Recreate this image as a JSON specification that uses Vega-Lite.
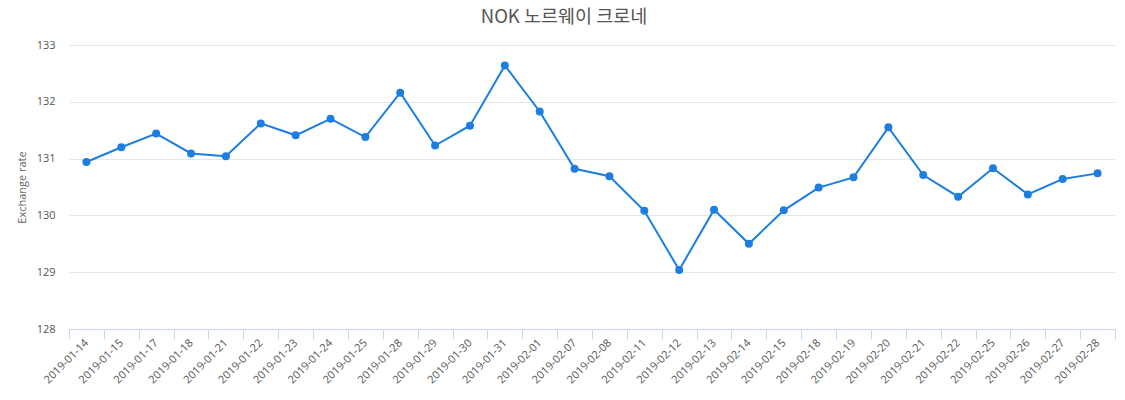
{
  "$schema": "https://vega.github.io/schema/vega-lite/v6.json",
  "autosize": {"type": "none"},
  "width": 1046,
  "height": 284,
  "padding": {"left": 69, "top": 45, "right": 10, "bottom": 71},
  "background": "white",
  "title": {
    "text": "NOK 노르웨이 크로네",
    "font": "Noto Sans CJK KR",
    "fontSize": 18.5,
    "fontWeight": "normal",
    "color": "#555555",
    "anchor": "middle",
    "baseline": "alphabetic",
    "offset": -2,
    "dx": -28
  },
  "data": {
    "values": [
      {"date": "2019-01-14", "rate": 130.94},
      {"date": "2019-01-15", "rate": 131.20},
      {"date": "2019-01-17", "rate": 131.44},
      {"date": "2019-01-18", "rate": 131.09},
      {"date": "2019-01-21", "rate": 131.04},
      {"date": "2019-01-22", "rate": 131.62},
      {"date": "2019-01-23", "rate": 131.41},
      {"date": "2019-01-24", "rate": 131.70},
      {"date": "2019-01-25", "rate": 131.38},
      {"date": "2019-01-28", "rate": 132.16},
      {"date": "2019-01-29", "rate": 131.23},
      {"date": "2019-01-30", "rate": 131.58},
      {"date": "2019-01-31", "rate": 132.64},
      {"date": "2019-02-01", "rate": 131.83},
      {"date": "2019-02-07", "rate": 130.82},
      {"date": "2019-02-08", "rate": 130.69},
      {"date": "2019-02-11", "rate": 130.08},
      {"date": "2019-02-12", "rate": 129.04},
      {"date": "2019-02-13", "rate": 130.10},
      {"date": "2019-02-14", "rate": 129.50},
      {"date": "2019-02-15", "rate": 130.09},
      {"date": "2019-02-18", "rate": 130.49},
      {"date": "2019-02-19", "rate": 130.67},
      {"date": "2019-02-20", "rate": 131.55},
      {"date": "2019-02-21", "rate": 130.71},
      {"date": "2019-02-22", "rate": 130.33},
      {"date": "2019-02-25", "rate": 130.83},
      {"date": "2019-02-26", "rate": 130.37},
      {"date": "2019-02-27", "rate": 130.64},
      {"date": "2019-02-28", "rate": 130.74}
    ]
  },
  "encoding": {
    "x": {
      "field": "date",
      "type": "ordinal",
      "sort": null,
      "scale": {"type": "band", "paddingInner": 0, "paddingOuter": 0},
      "axis": {
        "title": null,
        "labelAngle": -45,
        "labelAlign": "right",
        "labelBaseline": "middle",
        "labelFont": "Open Sans",
        "labelFontSize": 11,
        "labelColor": "#555555",
        "labelPadding": 2,
        "tickBand": "extent",
        "tickSize": 10,
        "tickColor": "#ccd6eb",
        "domainColor": "#ccd6eb",
        "grid": false
      }
    },
    "y": {
      "field": "rate",
      "type": "quantitative",
      "scale": {"domain": [128, 133], "zero": false, "nice": false},
      "axis": {
        "title": "Exchange rate",
        "titleFont": "Open Sans",
        "titleFontSize": 11,
        "titleFontWeight": "normal",
        "titleColor": "#666666",
        "titlePadding": 9,
        "values": [128, 129, 130, 131, 132, 133],
        "labelFont": "Open Sans",
        "labelFontSize": 11,
        "labelColor": "#555555",
        "labelPadding": 14,
        "ticks": false,
        "domain": false,
        "gridColor": "#e6e6e6"
      }
    }
  },
  "layer": [
    {"mark": {"type": "line", "color": "#1c7ee0", "strokeWidth": 2}},
    {"mark": {"type": "point", "filled": true, "color": "#1c7ee0", "size": 64, "opacity": 1}}
  ],
  "config": {"view": {"stroke": null}}
}
